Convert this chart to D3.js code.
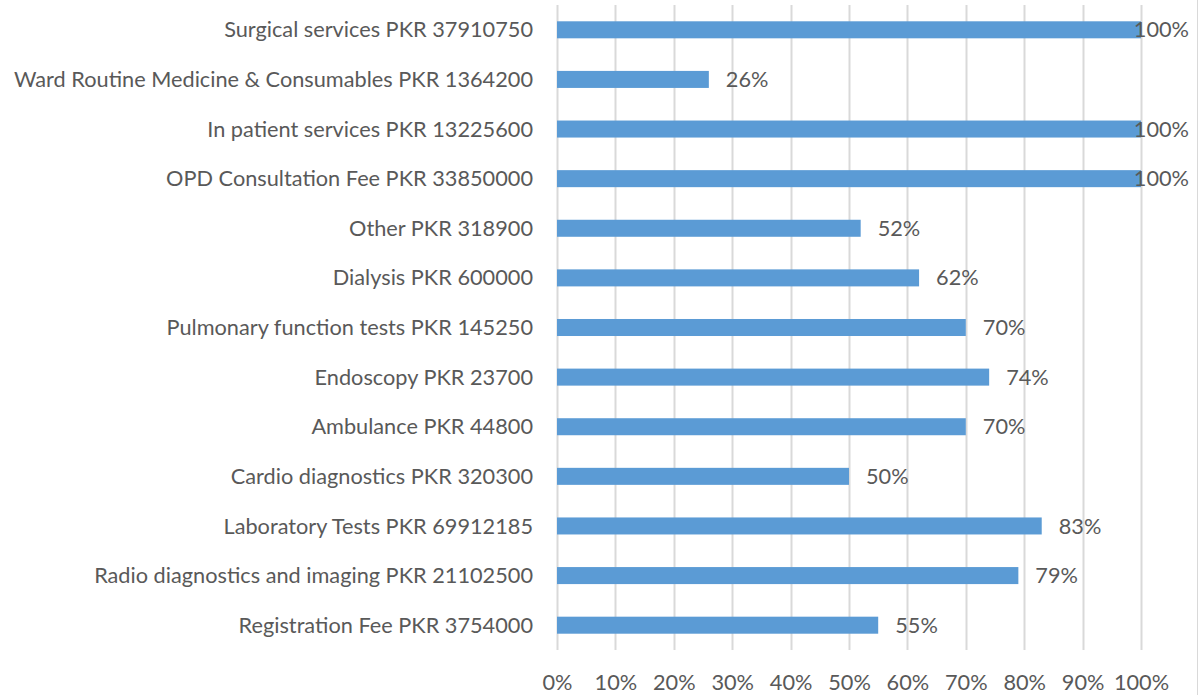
<!DOCTYPE html>
<html>
<head>
<meta charset="utf-8">
<script src="https://cdn.jsdelivr.net/npm/d3@7"></script>
<style>
  body { margin: 0; background: #fff; }
  text { font-family: Lato, "Open Sans", sans-serif; fill: #595959; }
</style>
</head>
<body>
<svg id="chart" width="1201" height="695"></svg>
<script>
const categories = [
  "Surgical services PKR 37910750",
  "Ward Routine Medicine & Consumables PKR 1364200",
  "In patient services PKR 13225600",
  "OPD Consultation Fee PKR 33850000",
  "Other PKR 318900",
  "Dialysis PKR 600000",
  "Pulmonary function tests PKR 145250",
  "Endoscopy PKR 23700",
  "Ambulance PKR 44800",
  "Cardio diagnostics PKR 320300",
  "Laboratory Tests PKR 69912185",
  "Radio diagnostics and imaging PKR 21102500",
  "Registration Fee PKR 3754000"
];
const values = [100, 26, 100, 100, 52, 62, 70, 74, 70, 50, 83, 79, 55];
const ticks = [0, 10, 20, 30, 40, 50, 60, 70, 80, 90, 100];

const svg = d3.select("#chart");
const margin = { top: 5, left: 557, right: 60, bottom: 45 };
const W = 1201, H = 695;

// measure the longest label so the text width roughly matches the original
let fs = 22;
const probe = svg.append("text").attr("font-size", fs + "px").text(categories[1]);
const w = probe.node().getComputedTextLength();
probe.remove();
fs = fs * 519 / w;

const x = d3.scaleLinear().domain([0, 100]).range([margin.left, W - margin.right]);
const y = d3.scaleBand().domain(categories).range([margin.top, H - margin.bottom]).paddingInner(0.657).paddingOuter(0.3285);

// outer border on the right
svg.append("line")
  .attr("x1", 1197.5).attr("x2", 1197.5).attr("y1", 0).attr("y2", H)
  .attr("stroke", "#d9d9d9").attr("stroke-width", 1);

// gridlines
svg.append("g").selectAll("line").data(ticks).join("line")
  .attr("x1", d => Math.round(x(d)) + 0.5)
  .attr("x2", d => Math.round(x(d)) + 0.5)
  .attr("y1", margin.top)
  .attr("y2", H - margin.bottom)
  .attr("stroke", "#d9d9d9")
  .attr("stroke-width", 2);

// bars
svg.append("g").selectAll("rect").data(values).join("rect")
  .attr("x", x(0))
  .attr("y", (d, i) => y(categories[i]))
  .attr("width", d => x(d) - x(0))
  .attr("height", y.bandwidth())
  .attr("fill", "#5b9bd5");

// category labels
svg.append("g").selectAll("text").data(categories).join("text")
  .attr("x", 533)
  .attr("y", d => y(d) + y.bandwidth() / 2)
  .attr("dy", "0.35em")
  .attr("text-anchor", "end")
  .attr("font-size", fs + "px")
  .text(d => d);

// value labels
const maxRight = 1189;
svg.append("g").selectAll("text").data(values).join("text")
  .attr("y", (d, i) => y(categories[i]) + y.bandwidth() / 2)
  .attr("dy", "0.35em")
  .attr("font-size", fs + "px")
  .text(d => d + "%")
  .attr("x", function(d) {
    const tw = this.getComputedTextLength();
    return Math.min(x(d) + 17, maxRight - tw);
  });

// x axis labels
const axis = d3.axisBottom(x).tickValues(ticks).tickFormat(d => d + "%").tickSize(0).tickPadding(0);
const ax = svg.append("g")
  .attr("transform", `translate(0, 682)`)
  .call(axis);
ax.select(".domain").remove();
ax.selectAll("text")
  .attr("font-size", fs + "px")
  .attr("font-family", null)
  .attr("fill", "#595959")
  .attr("dy", "0.35em")
  .attr("y", 0);
ax.attr("font-family", null).attr("font-size", null);
</script>
</body>
</html>
